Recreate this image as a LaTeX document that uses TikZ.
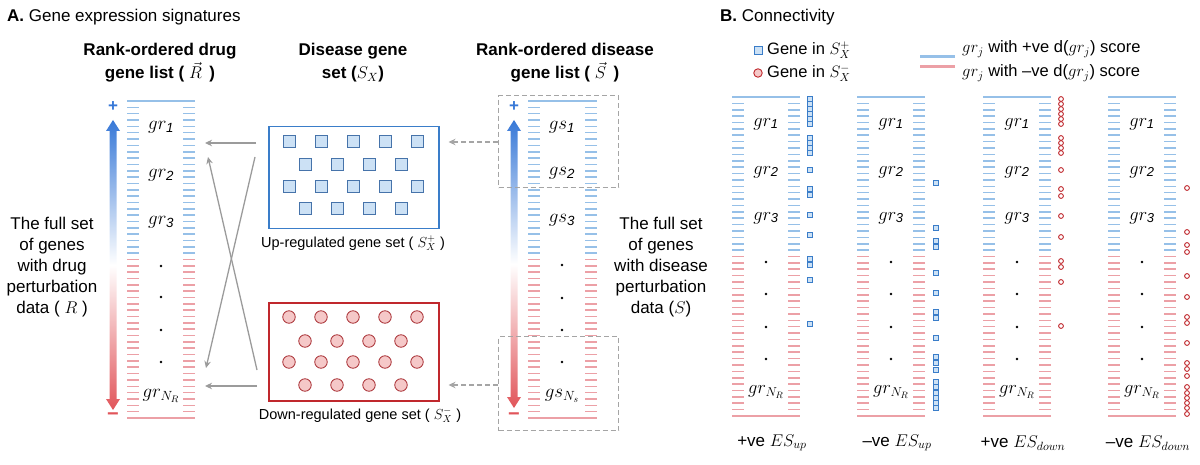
\RequirePackage{fix-cm}
\documentclass[tikz,border=0pt]{standalone}
\usepackage{fontspec}
\setmainfont{Liberation Sans}
\usetikzlibrary{arrows.meta}
\definecolor{tickblue}{RGB}{150,192,232}
\definecolor{tickred}{RGB}{236,160,166}
\definecolor{boxblue}{RGB}{58,125,201}
\definecolor{boxred}{RGB}{192,40,45}
\definecolor{sqfill}{RGB}{204,225,245}
\definecolor{sqdraw}{RGB}{70,115,170}
\definecolor{cifill}{RGB}{245,200,200}
\definecolor{cidraw}{RGB}{170,50,55}
\definecolor{arrgray}{RGB}{155,155,155}
\definecolor{dashgray}{RGB}{165,165,165}
\definecolor{gradblue}{RGB}{55,120,215}
\definecolor{gradred}{RGB}{225,85,90}
\newcommand{\glist}[4]{%
  \draw[tickblue, line width=1.6] (#1,#3) -- (#2,#3);
  \draw[tickred, line width=1.6] (#1,#4) -- (#2,#4);
  \foreach \k in {1,...,49}{%
    \pgfmathsetmacro\yy{#3+\k*(#4-#3)/50}%
    \ifnum\k<25\relax\def\cc{tickblue}\else\def\cc{tickred}\fi
    \draw[\cc, line width=1.6] (#1,\yy) -- ++(12,0) (#2,\yy) -- ++(-12,0);
  }%
}
\newcommand{\gradarrow}[3]{%
  \shade[top color=gradblue, bottom color=gradred, middle color=white]
    (#1,#2) -- (#1+7,#2+11) -- (#1+3.5,#2+11) -- (#1+3.5,#3-11) -- (#1+7,#3-11)
    -- (#1,#3) -- (#1-7,#3-11) -- (#1-3.5,#3-11) -- (#1-3.5,#2+11) -- (#1-7,#2+11) -- cycle;
}
\begin{document}
\begin{tikzpicture}[x=1pt,y=-1pt,
  every node/.style={inner sep=0pt},
  head/.style={font=\fontsize{17}{23}\selectfont\bfseries, align=center},
  side/.style={font=\fontsize{17}{21}\selectfont, align=center},
  gl/.style={font=\fontsize{19}{22}\selectfont},
  glb/.style={font=\fontsize{18.5}{22}\selectfont},
  capt/.style={font=\fontsize{14.5}{17}\selectfont},
  leg/.style={font=\fontsize{16.5}{19}\selectfont, anchor=west},
  bigsq/.style={draw=sqdraw, fill=sqfill, line width=0.8, minimum size=12},
  bigci/.style={circle, draw=cidraw, fill=cifill, line width=0.8, minimum size=12.5},
  smallsq/.style={draw=boxblue, fill=sqfill, line width=0.9, minimum size=4.6},
  smallci/.style={circle, draw=boxred, fill=white, line width=0.9, minimum size=4.8},
  arr/.style={draw=arrgray, line width=1.3, -{Stealth[length=7pt,width=6.5pt]}},
  darr/.style={draw=dashgray, line width=1.3, dash pattern=on 5pt off 3pt, -{Stealth[length=7pt,width=6.5pt]}},
  dbox/.style={draw=dashgray, line width=1.2, dash pattern=on 5pt off 3pt}
]
\useasboundingbox (0,0) rectangle (1200,465);

% ---------- Panel A ----------
\node[anchor=west, font=\fontsize{17}{20}\selectfont] (titleA) at (7,17) {\textbf{A.} Gene expression signatures};
\node[head] (hR) at (160,63) {Rank-ordered drug\\gene list ( $\vec{R}$\, )};
\node[head] (hSX) at (353,63) {Disease gene\\set ($S_X$)};
\node[head] (hS) at (565,63) {Rank-ordered disease\\gene list ( $\vec{S}$\, )};
\node[side] (sideR) at (52,267) {The full set\\of genes\\with drug\\perturbation\\data ( $R$ )};
\node[side] (sideS) at (661,267) {The full set\\of genes\\with disease\\perturbation\\data ($S$)};

% drug list
\gradarrow{113}{120}{410}
\node[font=\fontsize{17}{20}\selectfont\bfseries, text=gradblue] (plusR) at (113,107) {+};
\node[font=\fontsize{20}{22}\selectfont\bfseries, text=gradred] (minusR) at (113,417) {−};
\glist{127}{195}{101}{418}
\node[gl] (r1) at (161,127) {$gr_{\mathit{1}}$};
\node[gl] (r2) at (161,175) {$gr_{\mathit{2}}$};
\node[gl] (r3) at (161,222) {$gr_{\mathit{3}}$};
\foreach \y in {266,297,330,362} \fill (161,\y) circle (1.4);
\node[gl] (rN) at (161,396) {$gr_{N_R}$};

% disease list
\gradarrow{514}{120}{408}
\node[font=\fontsize{17}{20}\selectfont\bfseries, text=gradblue] (plusS) at (514,107) {+};
\node[font=\fontsize{20}{22}\selectfont\bfseries, text=gradred] (minusS) at (514,417) {−};
\glist{528}{597}{101}{418}
\node[gl] (s1) at (562,127) {$gs_{\mathit{1}}$};
\node[gl] (s2) at (562,173) {$gs_{\mathit{2}}$};
\node[gl] (s3) at (562,220) {$gs_{\mathit{3}}$};
\foreach \y in {265,298,330,362} \fill (562,\y) circle (1.4);
\node[gl] (sN) at (562,396) {$gs_{N_s}$};
\node[dbox, anchor=north west, minimum width=120, minimum height=92] (dtop) at (498,95) {};
\node[dbox, anchor=north west, minimum width=120, minimum height=94] (dbot) at (498,336) {};

% gene set boxes
\node[draw=boxblue, line width=1.5, anchor=north west, minimum width=170, minimum height=102] (upbox) at (268,126) {};
\foreach \x [count=\i] in {289,321,353,385,417} {
  \node[bigsq] (ua\i) at (\x,141) {};
  \node[bigsq] (uc\i) at (\x,186) {};
}
\foreach \x [count=\i] in {305,337,369,401} {
  \node[bigsq] (ub\i) at (\x,164) {};
  \node[bigsq] (ud\i) at (\x,208) {};
}
\node[capt] (capU) at (353,243) {Up-regulated gene set ( $S_X^+$ )};

\node[draw=boxred, line width=1.5, anchor=north west, minimum width=170, minimum height=98] (dnbox) at (268,302) {};
\foreach \x [count=\i] in {289,321,353,385,417} {
  \node[bigci] (da\i) at (\x,317) {};
  \node[bigci] (dc\i) at (\x,362) {};
}
\foreach \x [count=\i] in {305,337,369,401} {
  \node[bigci] (db\i) at (\x,341) {};
  \node[bigci] (dd\i) at (\x,385) {};
}
\node[capt] (capD) at (360,415) {Down-regulated gene set ( $S_X^-$ )};

% connectors
\coordinate (u1s) at (256,143); \coordinate (u1e) at (205,143);
\coordinate (u2s) at (255,157); \coordinate (u2e) at (206,368);
\coordinate (d1s) at (257,386); \coordinate (d1e) at (205,386);
\coordinate (d2s) at (257,370); \coordinate (d2e) at (208,157);
\draw[arr] (u1s) -- (u1e);
\draw[arr] (u2s) -- (u2e);
\draw[arr] (d1s) -- (d1e);
\draw[arr] (d2s) -- (d2e);
\draw[darr] (dtop.west |- 0,142) -- ([xshift=9]upbox.east |- 0,142);
\draw[darr] (dbot.west |- 0,385) -- ([xshift=9]dnbox.east |- 0,385);

% ---------- Panel B ----------
\node[anchor=west, font=\fontsize{17}{20}\selectfont] (titleB) at (720,17) {\textbf{B.} Connectivity};
\node[smallsq, minimum size=8] (lsq) at (758,50) {};
\node[smallci, fill=cifill, minimum size=8.5] (lci) at (758,73) {};
\node[leg] (lsqt) at (767,50) {Gene in $S_X^+$};
\node[leg] (lcit) at (767,73) {Gene in $S_X^-$};
\coordinate (lb1) at (920,57); \coordinate (lb2) at (955,57);
\coordinate (lr1) at (920,67); \coordinate (lr2) at (955,67);
\draw[tickblue, line width=3] (lb1) -- (lb2);
\draw[tickred, line width=3] (lr1) -- (lr2);
\node[leg] (lbt) at (962,49) {$gr_j$ with +ve d($gr_j$) score};
\node[leg] (lrt) at (962,73) {$gr_j$ with –ve d($gr_j$) score};

\foreach \cx [count=\c] in {732,857,983,1108} {
  \glist{\cx}{\cx+68}{97}{416}
  \node[glb] (b\c g1) at (\cx+34,124) {$gr_{\mathit{1}}$};
  \node[glb] (b\c g2) at (\cx+34,172) {$gr_{\mathit{2}}$};
  \node[glb] (b\c g3) at (\cx+34,218) {$gr_{\mathit{3}}$};
  \foreach \y in {262,294,327,359} \fill (\cx+34,\y) circle (1.4);
  \node[glb] (b\c gN) at (\cx+34,392) {$gr_{N_R}$};
}
\foreach \y [count=\i] in {99,104,109,114,119,124,138,143,148,153,170,189,195,215,235,259,265,280,324}
  \node[smallsq] (pa\i) at (810,\y) {};
\foreach \y [count=\i] in {183,228,241,247,273,293,312,318,338,357,363,370,382,387,393,398,403,408}
  \node[smallsq] (pb\i) at (936,\y) {};
\foreach \y [count=\i] in {99,104,109,114,119,124,138,143,148,153,170,189,196,216,237,261,267,282,326}
  \node[smallci] (pc\i) at (1061,\y) {};
\foreach \y [count=\i] in {188,232,245,252,276,297,317,323,343,363,369,376,387,393,398,403,408,414}
  \node[smallci] (pd\i) at (1187,\y) {};

\node[side] (es1) at (772,443) {+ve $ES_{up}$};
\node[side] (es2) at (897,443) {–ve $ES_{up}$};
\node[side] (es3) at (1023,443) {+ve $ES_{down}$};
\node[side] (es4) at (1148,443) {–ve $ES_{down}$};
\end{tikzpicture}
\end{document}
